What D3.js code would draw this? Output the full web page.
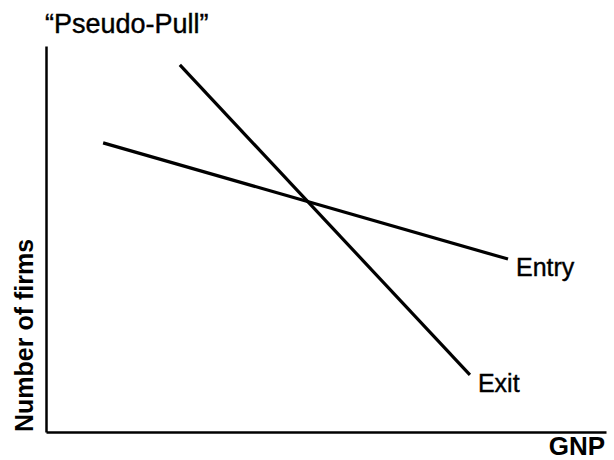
<!DOCTYPE html>
<html lang="en">
<head>
    <meta charset="UTF-8">
    <title>Pseudo-Pull</title>
    <script src="https://d3js.org/d3.v7.min.js"></script>
    <style>
        body { margin: 0; background: #fff; }
        svg text { font-family: "Liberation Sans", Arial, sans-serif; fill: #000; }
        .axis path { stroke: #000; stroke-width: 2.5; }
    </style>
</head>
<body>
    <div id="chart"></div>
    <script>
        // schematic values on a 0-100 scale
        const entryX = [10.2, 82.5];
        const entryY = [74.9, 44.8];
        const exitX = [23.9, 75.7];
        const exitY = [95.1, 14.8];
        const seriesNames = ["Entry", "Exit"];

        const width = 614, height = 460;
        const margin = { top: 46, right: 8, bottom: 28, left: 46 };

        const svg = d3.select("#chart").append("svg")
            .attr("width", width)
            .attr("height", height);

        const x = d3.scaleLinear().domain([0, 100]).range([margin.left, width - margin.right]);
        const y = d3.scaleLinear().domain([0, 100]).range([height - margin.bottom, margin.top]);

        // axes: just the lines, no ticks
        svg.append("g").attr("class", "axis")
            .attr("transform", `translate(0,${y(0)})`)
            .call(d3.axisBottom(x).ticks(0).tickSizeOuter(0));
        svg.append("g").attr("class", "axis")
            .attr("transform", `translate(${x(0)},0)`)
            .call(d3.axisLeft(y).ticks(0).tickSizeOuter(0));

        const series = [
            { name: seriesNames[0], pts: entryX.map((v, i) => [v, entryY[i]]) },
            { name: seriesNames[1], pts: exitX.map((v, i) => [v, exitY[i]]) }
        ];

        const line = d3.line().x(d => x(d[0])).y(d => y(d[1]));

        svg.selectAll(".curve")
            .data(series)
            .enter().append("path")
            .attr("class", "curve")
            .attr("d", d => line(d.pts))
            .attr("fill", "none")
            .attr("stroke", "#000")
            .attr("stroke-width", 3.2);

        // labels at the end of each line
        svg.selectAll(".lbl")
            .data(series)
            .enter().append("text")
            .attr("class", "lbl")
            .attr("x", d => x(d.pts[1][0]) + 8)
            .attr("y", d => y(d.pts[1][1]) + 17)
            .style("font-size", "25px")
            .style("stroke", "#000")
            .style("stroke-width", 0.4)
            .text(d => d.name);

        svg.append("text")
            .attr("x", 45).attr("y", 33)
            .style("font-size", "27px")
            .style("stroke", "#000")
            .style("stroke-width", 0.4)
            .text("\u201CPseudo-Pull\u201D");

        svg.append("text")
            .attr("transform", `translate(33,${y(0)}) rotate(-90)`)
            .style("font-size", "25px")
            .style("font-weight", "bold")
            .text("Number of firms");

        svg.append("text")
            .attr("x", 605).attr("y", 455)
            .attr("text-anchor", "end")
            .style("font-size", "26px")
            .style("font-weight", "bold")
            .text("GNP");
    </script>
</body>
</html>
